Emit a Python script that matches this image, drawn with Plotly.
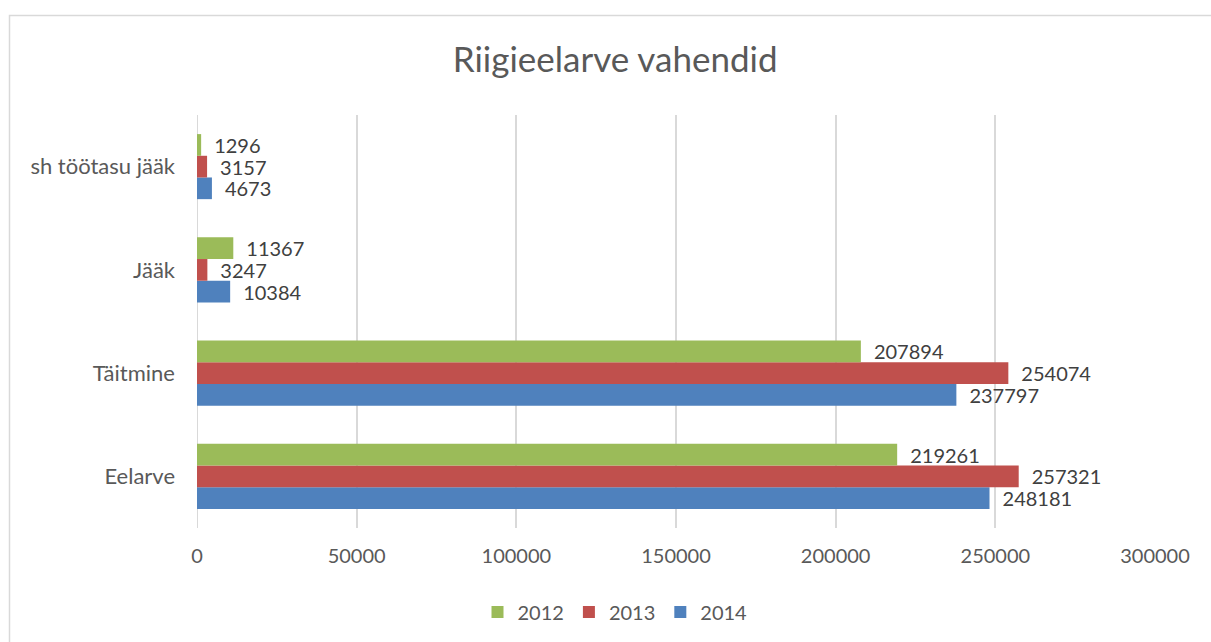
import plotly.graph_objects as go

categories = ["Eelarve", "Täitmine", "Jääk", "sh töötasu jääk"]
years = ["2014", "2013", "2012"]
values_2014 = [248181, 237797, 10384, 4673]
values_2013 = [257321, 254074, 3247, 3157]
values_2012 = [219261, 207894, 11367, 1296]
colors = {"2012": "#9BBB59", "2013": "#C0504D", "2014": "#4F81BD"}
series = {"2014": values_2014, "2013": values_2013, "2012": values_2012}
tick_vals = [0, 50000, 100000, 150000, 200000, 250000, 300000]
tick_text = ["0", "50000", "100000", "150000", "200000", "250000", "300000"]

FONT = "Lato, Liberation Sans, sans-serif"

fig = go.Figure()
for y in years:
    vals = series[y]
    fig.add_trace(go.Bar(
        y=categories, x=vals, name=y, orientation="h",
        marker=dict(color=colors[y], line=dict(width=0)),
        text=["\u2002" + str(v) for v in vals],
        textposition="outside", constraintext="none", cliponaxis=False,
        textfont=dict(family=FONT, size=20, color="#404040"),
    ))

L, R, T, B = 197, 56, 115, 114
W, H = 1211, 642
pw, ph = W - L - R, H - T - B

def px_x(p):
    return (p - L) / pw

def px_y(p):
    return (H - B - p) / ph

fig.update_layout(
    width=W, height=H,
    margin=dict(l=L, r=R, t=T, b=B, autoexpand=False),
    paper_bgcolor="white", plot_bgcolor="white",
    barmode="group", bargap=0.37, bargroupgap=0,
    title=dict(text="Riigieelarve vahendid", x=0.508, xanchor="center",
               y=1 - 60 / H, yanchor="middle",
               font=dict(family=FONT, size=35, color="#595959")),
    font=dict(family=FONT, size=20, color="#595959"),
    xaxis=dict(range=[0, 300000], tickvals=tick_vals, ticktext=tick_text,
               showgrid=True, gridcolor="#D9D9D9", gridwidth=2, zeroline=False,
               showline=False, ticks="", tickfont=dict(size=20, color="#595959"),
               ticklabelstandoff=14),
    yaxis=dict(categoryorder="array", categoryarray=categories,
               showgrid=False, zeroline=False, showline=False, ticks="",
               tickfont=dict(size=22, color="#595959"), ticklabelstandoff=21),
    legend=dict(orientation="h", x=px_x(615), xanchor="center", y=px_y(612),
                yanchor="middle", traceorder="reversed",
                font=dict(family=FONT, size=20, color="#595959"),
                itemwidth=30),
    showlegend=True,
)

# left axis line (gray) at x=0
fig.add_shape(type="line", xref="x", yref="paper", x0=0, x1=0, y0=0, y1=1,
              line=dict(color="#D9D9D9", width=2), layer="below")
# chart border
fig.add_shape(type="rect", xref="paper", yref="paper",
              x0=px_x(9.5), x1=px_x(1230), y0=px_y(660), y1=px_y(15.5),
              line=dict(color="#D9D9D9", width=1.5), fillcolor="rgba(0,0,0,0)")

fig.write_html("out.html", config={"displayModeBar": False},
               post_script="document.body.style.margin='0';document.body.style.overflow='hidden';")
